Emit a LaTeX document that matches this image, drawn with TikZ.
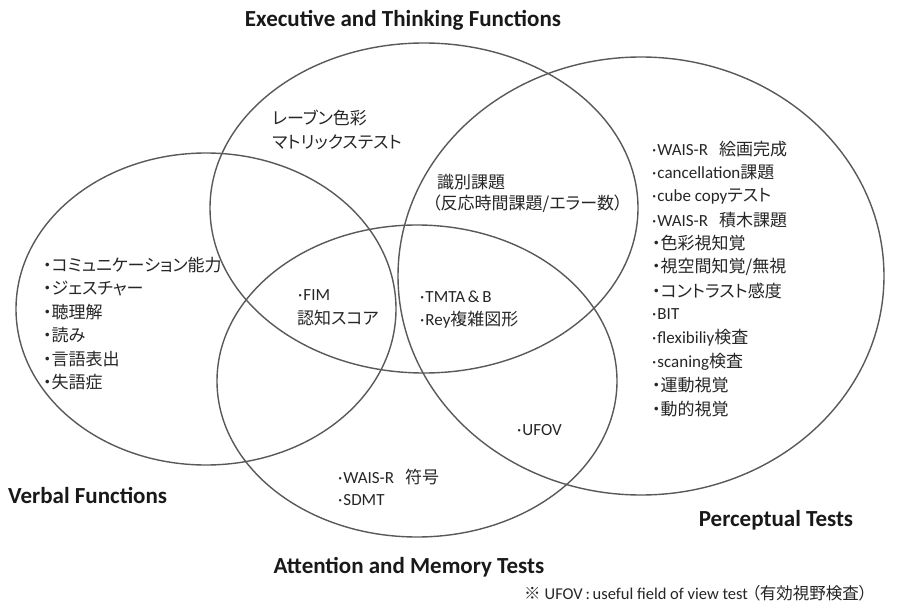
\documentclass[tikz,border=0pt]{standalone}
\usepackage{fontspec}
\setmainfont{Carlito}
\newfontfamily\jp[RawFeature=+palt]{Noto Sans CJK JP}
\newcommand{\J}[1]{{\jp #1}}
\newcommand{\B}{·\hspace{1pt}}
\begin{document}
\begin{tikzpicture}[x=1pt,y=-1pt,
  ring/.style={draw=black!65, line width=1.4pt},
  item/.style={anchor=west, inner sep=0pt, text=black!85, font=\fontsize{17}{20}\selectfont},
  ttl/.style={inner sep=0pt, text=black!90, font=\bfseries\fontsize{23}{26}\selectfont}]
\useasboundingbox (0,0) rectangle (898,610);
\fill[white] (0,0) rectangle (898,610);
% circles
\draw[ring] (424,208) ellipse [x radius=214, y radius=165];
\draw[ring] (206,309) ellipse [x radius=190, y radius=156];
\draw[ring] (641,276) ellipse [x radius=243, y radius=219];
\draw[ring] (417,381) ellipse [x radius=200, y radius=156];
% titles
\node[ttl] (tExec) at (403,20) {Executive and Thinking Functions};
\node[ttl, anchor=west] (tVerb) at (8,495) {Verbal Functions};
\node[ttl] (tAtt) at (409,567) {Attention and Memory Tests};
\node[ttl] (tPerc) at (776,520) {Perceptual Tests};
% perceptual column
\foreach \t [count=\i] in {
  {\B WAIS-R\hspace{11pt}\J{絵画完成}},
  {\B cancellation\J{課題}},
  {\B cube copy\J{テスト}},
  {\B WAIS-R\hspace{11pt}\J{積木課題}},
  {\J{・色彩視知覚}},
  {\J{・視空間知覚/無視}},
  {\J{・コントラスト感度}},
  {\B BIT},
  {\B flexibiliy\J{検査}},
  {\B scaning\J{検査}},
  {\J{・運動視覚}},
  {\J{・動的視覚}}}
  \node[item] (p\i) at (652,{149+23.6*(\i-1)}) {\t};
% verbal column
\foreach \t [count=\i] in {
  {・コミュニケーション能力},
  {・ジェスチャー},
  {・聴理解},
  {・読み},
  {・言語表出},
  {・失語症}}
  \node[item] (v\i) at (43,{265+23.5*(\i-1)}) {\J{\t}};
% executive only
\node[item] (e1) at (272,118) {\J{レーブン色彩}};
\node[item] (e2) at (272,142) {\J{マトリックステスト}};
% executive & perceptual
\node[item] (ep1) at (437,182) {\J{識別課題}};
\node[item] (ep2) at (432,204) {\J{（反応時間課題/エラー数）}};
% executive, verbal, attention
\node[item] (f1) at (298,295) {\B FIM};
\node[item] (f2) at (297,318) {\J{認知スコア}};
% executive, attention, perceptual
\node[item] (r1) at (420,297) {\B TMTA\,\&\,B};
\node[item] (r2) at (420,320) {\B Rey\J{複雑図形}};
% attention & perceptual
\node[item] (u1) at (517,430) {\B UFOV};
% attention only
\node[item] (a1) at (338,477) {\B WAIS-R\hspace{11pt}\J{符号}};
\node[item] (a2) at (338,500) {\B SDMT};
% footnote
\node[item, font=\fontsize{16.5}{20}\selectfont] (fn) at (524,593) {\J{※}\hspace{4pt}UFOV\,:\,useful field of view test \J{（有効視野検査）}};
\end{tikzpicture}
\end{document}
